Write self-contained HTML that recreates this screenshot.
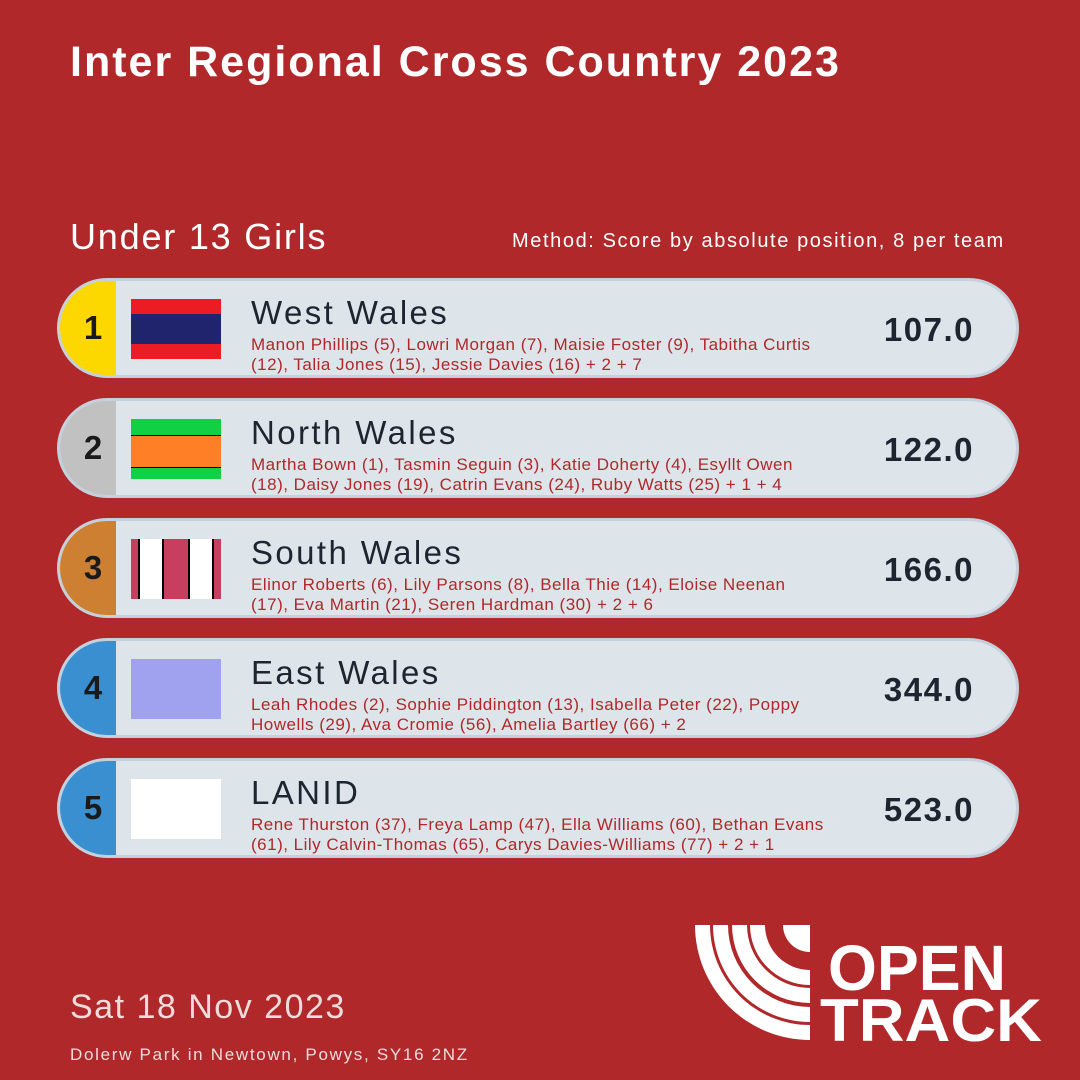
<!DOCTYPE html>
<html><head><style>
body{margin:0;width:1080px;height:1080px;background:#b0282a;font-family:"Liberation Sans",sans-serif;position:relative;overflow:hidden;color:#fff}
.a{position:absolute}
.row{position:absolute;left:57px;width:962px;height:100px;background:#dde4ea;border:3px solid #c4d0db;border-radius:52px;box-sizing:border-box;overflow:hidden}
.rk{position:absolute;left:0;top:0;width:56px;height:100%;font-size:33px;font-weight:bold;color:#1a1a1a;display:flex;align-items:center;justify-content:center;padding-left:10px;box-sizing:border-box}
.fl{position:absolute;left:71px;top:18px;width:90px;height:60px}
.nm{position:absolute;left:191px;top:13px;font-size:33px;letter-spacing:2.4px;color:#1c2530}
.ath{position:absolute;left:191px;top:54px;width:575px;font-size:17px;letter-spacing:0.5px;line-height:20px;color:#b0282a}
.sc{position:absolute;right:42px;top:30px;font-size:33px;letter-spacing:1.5px;font-weight:bold;color:#1c2530}
</style></head><body>
<div class="a" style="left:70px;top:38px;font-size:43px;font-weight:bold;letter-spacing:2px">Inter Regional Cross Country 2023</div>
<div class="a" style="left:70px;top:216px;font-size:36px;letter-spacing:1.8px">Under 13 Girls</div>
<div class="a" style="left:512px;top:230px;font-size:20px;letter-spacing:1.6px">Method: Score by absolute position, 8 per team</div>

<div class="row" style="top:278px"><div class="rk" style="background:#fdd800">1</div>
<div class="fl" style="background:linear-gradient(#ec1c24 0 15px,#1f246c 15px 45px,#ec1c24 45px)"></div>
<div class="nm">West Wales</div><div class="ath">Manon Phillips (5), Lowri Morgan (7), Maisie Foster (9), Tabitha Curtis (12), Talia Jones (15), Jessie Davies (16) + 2 + 7</div><div class="sc">107.0</div></div>

<div class="row" style="top:398px"><div class="rk" style="background:#c1c1c1">2</div>
<div class="fl" style="background:linear-gradient(#12d044 0 16px,#000 16px 17px,#ff7f27 17px 48px,#000 48px 49px,#12d044 49px)"></div>
<div class="nm">North Wales</div><div class="ath">Martha Bown (1), Tasmin Seguin (3), Katie Doherty (4), Esyllt Owen (18), Daisy Jones (19), Catrin Evans (24), Ruby Watts (25) + 1 + 4</div><div class="sc">122.0</div></div>

<div class="row" style="top:518px"><div class="rk" style="background:#cd7f32">3</div>
<div class="fl" style="background:linear-gradient(90deg,#c83e5e 0 7px,#000 7px 9px,#fff 9px 31px,#000 31px 33px,#c83e5e 33px 57px,#000 57px 59px,#fff 59px 81px,#000 81px 83px,#c83e5e 83px)"></div>
<div class="nm">South Wales</div><div class="ath">Elinor Roberts (6), Lily Parsons (8), Bella Thie (14), Eloise Neenan (17), Eva Martin (21), Seren Hardman (30) + 2 + 6</div><div class="sc">166.0</div></div>

<div class="row" style="top:638px"><div class="rk" style="background:#3a8fd0">4</div>
<div class="fl" style="background:#a0a2f0"></div>
<div class="nm">East Wales</div><div class="ath">Leah Rhodes (2), Sophie Piddington (13), Isabella Peter (22), Poppy Howells (29), Ava Cromie (56), Amelia Bartley (66) + 2</div><div class="sc">344.0</div></div>

<div class="row" style="top:758px"><div class="rk" style="background:#3a8fd0">5</div>
<div class="fl" style="background:#fff"></div>
<div class="nm">LANID</div><div class="ath">Rene Thurston (37), Freya Lamp (47), Ella Williams (60), Bethan Evans (61), Lily Calvin-Thomas (65), Carys Davies-Williams (77) + 2 + 1</div><div class="sc">523.0</div></div>

<svg class="a" style="left:0;top:0" width="1080" height="1080">
<g fill="#fff">
<path d="M695 925 A115 115 0 0 0 810 1040 L810 1025 A100 100 0 0 1 710 925Z"/>
<path d="M713 925 A97 97 0 0 0 810 1022 L810 1007 A82 82 0 0 1 728 925Z"/>
<path d="M732 925 A78 78 0 0 0 810 1003 L810 988 A63 63 0 0 1 747 925Z"/>
<path d="M750 925 A60 60 0 0 0 810 985 L810 970 A45 45 0 0 1 765 925Z"/>
<path d="M783 925 A27 27 0 0 0 810 952 L810 925Z"/>
</g>
<text x="828" y="990" font-family="Liberation Sans" font-weight="bold" font-size="64" fill="#fff" textLength="178" lengthAdjust="spacingAndGlyphs">OPEN</text>
<text x="820" y="1041" font-family="Liberation Sans" font-weight="bold" font-size="60" fill="#fff" textLength="222" lengthAdjust="spacingAndGlyphs">TRACK</text>
</svg>
<div class="a" style="left:70px;top:988px;font-size:34px;letter-spacing:1.5px;color:#eedcdc">Sat 18 Nov 2023</div>
<div class="a" style="left:70px;top:1045px;font-size:17px;letter-spacing:1.7px;color:#eedcdc">Dolerw Park in Newtown, Powys, SY16 2NZ</div>
</body></html>
